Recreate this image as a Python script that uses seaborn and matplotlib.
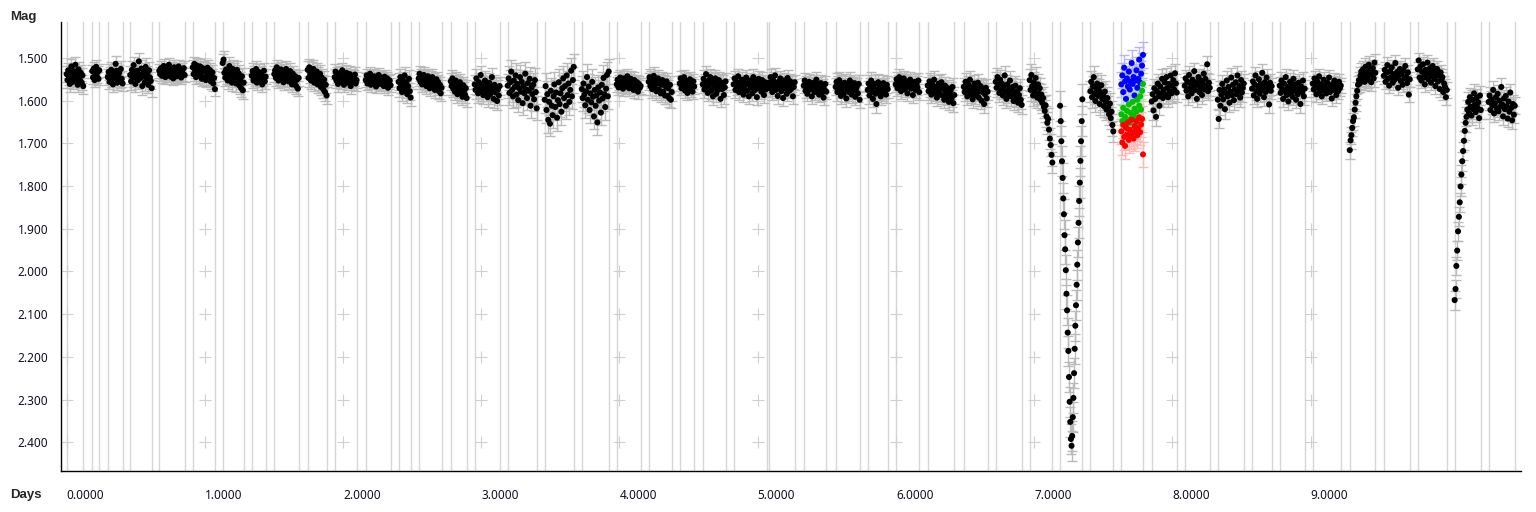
import numpy as np
import pandas as pd
import seaborn as sns
import matplotlib.pyplot as plt

# observing nights (days), one vertical marker line at each start and end
night_start = [0.000, 0.185, 0.297, 0.460, 0.670, 0.912, 1.129, 1.339, 1.502, 1.744,
               1.939, 2.164, 2.402, 2.547, 2.779, 2.952, 3.191, 3.459, 3.727, 3.980,
               4.211, 4.436, 4.602, 4.826, 5.080, 5.333, 5.564, 5.796, 5.998, 6.230,
               6.491, 6.722, 6.968, 7.188, 7.407, 7.631, 7.851, 8.090, 8.329, 8.577,
               8.777, 9.016, 9.284, 9.530, 9.776, 10.043, 10.289]
night_end = [0.120, 0.236, 0.405, 0.615, 0.854, 1.073, 1.281, 1.440, 1.679, 1.881,
             2.098, 2.344, 2.489, 2.713, 2.894, 3.133, 3.401, 3.669, 3.922, 4.153,
             4.378, 4.541, 4.768, 5.065, 5.268, 5.496, 5.738, 5.941, 6.169, 6.423,
             6.664, 6.910, 7.132, 7.349, 7.573, 7.788, 8.032, 8.271, 8.517, 8.719,
             8.958, 9.219, 9.469, 9.718, 9.986, 10.232, 10.478]
night_err = [0.018, 0.015, 0.018, 0.020, 0.016, 0.017, 0.020, 0.018, 0.018, 0.020,
             0.018, 0.016, 0.020, 0.018, 0.020, 0.022, 0.028, 0.030, 0.030, 0.018,
             0.020, 0.017, 0.020, 0.018, 0.018, 0.018, 0.020, 0.020, 0.018, 0.020,
             0.020, 0.022, 0.025, 0.035, 0.025, 0.030, 0.022, 0.020, 0.022, 0.020,
             0.020, 0.018, 0.020, 0.018, 0.018, 0.022, 0.020]

# magnitudes per night, in time order
night_mag = [
    [1.538, 1.552, 1.529, 1.545, 1.561, 1.534, 1.520, 1.548, 1.556, 1.531, 1.542, 1.516, 1.550, 1.537, 1.563, 1.527, 1.544, 1.553, 1.535, 1.558, 1.541, 1.566],
    [1.531, 1.546, 1.525, 1.552, 1.538, 1.521, 1.544, 1.533, 1.549, 1.529],
    [1.545, 1.533, 1.556, 1.540, 1.528, 1.551, 1.562, 1.537, 1.547, 1.514, 1.530, 1.558, 1.543, 1.535, 1.552, 1.526, 1.549, 1.560],
    [1.540, 1.555, 1.528, 1.548, 1.517, 1.536, 1.561, 1.544, 1.530, 1.552, 1.508, 1.539, 1.547, 1.525, 1.566, 1.542, 1.533, 1.557, 1.521, 1.549, 1.538, 1.563, 1.529, 1.546, 1.554, 1.571],
    [1.530, 1.538, 1.524, 1.542, 1.533, 1.519, 1.536, 1.545, 1.527, 1.540, 1.531, 1.516, 1.537, 1.544, 1.526, 1.534, 1.548, 1.522, 1.539, 1.529, 1.543, 1.535, 1.520, 1.541, 1.532, 1.546, 1.528, 1.537, 1.524, 1.540],
    [1.522, 1.538, 1.514, 1.530, 1.545, 1.518, 1.533, 1.526, 1.541, 1.520, 1.536, 1.549, 1.524, 1.531, 1.546, 1.527, 1.552, 1.535, 1.523, 1.548, 1.539, 1.529, 1.555, 1.543, 1.534, 1.560, 1.547, 1.573],
    [1.512, 1.504, 1.535, 1.546, 1.527, 1.541, 1.553, 1.530, 1.519, 1.544, 1.537, 1.558, 1.526, 1.549, 1.533, 1.541, 1.560, 1.528, 1.547, 1.536, 1.565, 1.552, 1.571, 1.543, 1.576, 1.558],
    [1.542, 1.531, 1.553, 1.538, 1.547, 1.526, 1.558, 1.540, 1.533, 1.551, 1.545, 1.536, 1.562, 1.548, 1.530, 1.555, 1.544],
    [1.538, 1.529, 1.547, 1.522, 1.541, 1.553, 1.534, 1.545, 1.527, 1.550, 1.539, 1.557, 1.532, 1.544, 1.526, 1.548, 1.536, 1.555, 1.540, 1.531, 1.549, 1.562, 1.537, 1.546, 1.558, 1.543, 1.566, 1.551, 1.572, 1.547],
    [1.528, 1.547, 1.522, 1.538, 1.553, 1.530, 1.544, 1.526, 1.558, 1.536, 1.549, 1.532, 1.562, 1.541, 1.555, 1.537, 1.568, 1.546, 1.559, 1.574, 1.551, 1.580, 1.563, 1.588],
    [1.545, 1.532, 1.553, 1.540, 1.561, 1.548, 1.536, 1.556, 1.544, 1.529, 1.551, 1.563, 1.541, 1.549, 1.535, 1.558, 1.546, 1.553, 1.538, 1.566, 1.550, 1.543, 1.557, 1.547, 1.539, 1.560, 1.552],
    [1.552, 1.541, 1.560, 1.548, 1.556, 1.537, 1.563, 1.550, 1.545, 1.558, 1.543, 1.554, 1.567, 1.549, 1.557, 1.540, 1.561, 1.553, 1.546, 1.559, 1.551, 1.566, 1.544, 1.555, 1.562, 1.548, 1.570, 1.557, 1.553, 1.564],
    [1.556, 1.571, 1.545, 1.563, 1.580, 1.552, 1.568, 1.541, 1.575, 1.559, 1.585, 1.566, 1.549, 1.578, 1.593],
    [1.548, 1.537, 1.556, 1.544, 1.562, 1.551, 1.540, 1.558, 1.547, 1.566, 1.553, 1.543, 1.560, 1.571, 1.549, 1.557, 1.545, 1.564, 1.554, 1.575, 1.561, 1.550, 1.568, 1.557, 1.578, 1.563, 1.583, 1.570],
    [1.555, 1.566, 1.548, 1.572, 1.560, 1.579, 1.553, 1.568, 1.585, 1.562, 1.575, 1.557, 1.581, 1.569, 1.591, 1.564, 1.576, 1.586, 1.571, 1.594],
    [1.562, 1.575, 1.548, 1.566, 1.583, 1.557, 1.571, 1.540, 1.578, 1.561, 1.587, 1.569, 1.553, 1.580, 1.564, 1.592, 1.573, 1.558, 1.585, 1.567, 1.545, 1.576, 1.596, 1.563, 1.581, 1.570, 1.601, 1.574, 1.588, 1.566],
    [1.565, 1.548, 1.582, 1.557, 1.532, 1.575, 1.590, 1.553, 1.568, 1.541, 1.586, 1.561, 1.599, 1.571, 1.545, 1.579, 1.556, 1.606, 1.566, 1.583, 1.537, 1.574, 1.594, 1.559, 1.577, 1.549, 1.612, 1.570, 1.585, 1.563, 1.597, 1.552, 1.580, 1.618],
    [1.598, 1.566, 1.622, 1.585, 1.645, 1.603, 1.654, 1.577, 1.612, 1.634, 1.590, 1.562, 1.615, 1.581, 1.640, 1.599, 1.557, 1.608, 1.583, 1.626, 1.571, 1.548, 1.594, 1.566, 1.612, 1.541, 1.587, 1.560, 1.603, 1.575, 1.530, 1.590, 1.552, 1.521],
    [1.573, 1.594, 1.560, 1.586, 1.611, 1.578, 1.545, 1.598, 1.567, 1.622, 1.583, 1.604, 1.556, 1.591, 1.637, 1.575, 1.612, 1.588, 1.651, 1.569, 1.600, 1.581, 1.628, 1.563, 1.595, 1.547, 1.585, 1.615, 1.572, 1.540, 1.590, 1.532],
    [1.562, 1.551, 1.569, 1.557, 1.546, 1.564, 1.555, 1.572, 1.548, 1.560, 1.567, 1.553, 1.543, 1.562, 1.571, 1.556, 1.549, 1.565, 1.558, 1.575, 1.552, 1.563, 1.568, 1.557, 1.579, 1.561, 1.570, 1.566],
    [1.556, 1.545, 1.566, 1.551, 1.573, 1.558, 1.542, 1.569, 1.553, 1.578, 1.560, 1.548, 1.574, 1.557, 1.583, 1.563, 1.552, 1.579, 1.560, 1.588, 1.567, 1.555, 1.589, 1.571, 1.594, 1.563, 1.598, 1.580],
    [1.560, 1.548, 1.571, 1.556, 1.566, 1.545, 1.576, 1.553, 1.563, 1.582, 1.558, 1.569, 1.550, 1.574, 1.562, 1.579, 1.555, 1.567],
    [1.562, 1.549, 1.574, 1.557, 1.538, 1.568, 1.582, 1.553, 1.565, 1.545, 1.577, 1.560, 1.590, 1.556, 1.571, 1.548, 1.584, 1.563, 1.575, 1.552, 1.567, 1.596, 1.558, 1.573, 1.561, 1.587, 1.569, 1.555],
    [1.562, 1.548, 1.575, 1.556, 1.569, 1.543, 1.580, 1.559, 1.566, 1.551, 1.573, 1.586, 1.557, 1.564, 1.546, 1.577, 1.561, 1.590, 1.553, 1.570, 1.558, 1.583, 1.545, 1.567, 1.575, 1.555, 1.592, 1.563, 1.549, 1.571, 1.560, 1.579, 1.552, 1.568, 1.587, 1.557, 1.574, 1.565],
    [1.558, 1.571, 1.545, 1.563, 1.580, 1.552, 1.567, 1.541, 1.575, 1.560, 1.589, 1.556, 1.569, 1.548, 1.578, 1.562, 1.594, 1.553, 1.571, 1.560, 1.584, 1.547, 1.566, 1.577, 1.555, 1.573, 1.561, 1.590, 1.568, 1.557],
    [1.565, 1.553, 1.577, 1.560, 1.584, 1.569, 1.556, 1.574, 1.562, 1.590, 1.571, 1.558, 1.580, 1.566, 1.551, 1.576, 1.563, 1.586, 1.572, 1.559, 1.582, 1.567, 1.593, 1.574, 1.561, 1.579],
    [1.568, 1.556, 1.580, 1.563, 1.552, 1.575, 1.589, 1.560, 1.571, 1.584, 1.558, 1.567, 1.595, 1.574, 1.562, 1.580, 1.553, 1.569, 1.586, 1.565, 1.577, 1.559, 1.591, 1.572, 1.566, 1.583, 1.561, 1.598],
    [1.575, 1.560, 1.588, 1.567, 1.553, 1.580, 1.596, 1.571, 1.561, 1.584, 1.608, 1.574, 1.557, 1.579, 1.566, 1.590, 1.570, 1.582, 1.559, 1.576, 1.568, 1.586, 1.563, 1.573],
    [1.562, 1.550, 1.571, 1.557, 1.545, 1.566, 1.578, 1.553, 1.563, 1.548, 1.574, 1.559, 1.568, 1.583, 1.555, 1.565, 1.551, 1.572, 1.560, 1.587, 1.564, 1.556, 1.575, 1.561, 1.569, 1.553, 1.580],
    [1.565, 1.578, 1.555, 1.571, 1.586, 1.561, 1.574, 1.551, 1.582, 1.568, 1.593, 1.576, 1.560, 1.584, 1.570, 1.557, 1.588, 1.573, 1.598, 1.565, 1.580, 1.591, 1.571, 1.603, 1.584, 1.576, 1.595, 1.568, 1.606, 1.587],
    [1.568, 1.580, 1.556, 1.573, 1.590, 1.562, 1.577, 1.551, 1.585, 1.569, 1.597, 1.575, 1.560, 1.588, 1.571, 1.582, 1.558, 1.593, 1.576, 1.566, 1.600, 1.580, 1.572, 1.608, 1.585, 1.570, 1.595, 1.579],
    [1.556, 1.570, 1.545, 1.563, 1.582, 1.551, 1.575, 1.560, 1.588, 1.567, 1.541, 1.579, 1.596, 1.562, 1.584, 1.572, 1.553, 1.590, 1.576, 1.568, 1.601, 1.583, 1.565, 1.594, 1.578, 1.605, 1.587, 1.571, 1.598, 1.610],
    [1.552, 1.575, 1.540, 1.566, 1.588, 1.558, 1.579, 1.547, 1.570, 1.593, 1.562, 1.584, 1.571, 1.598, 1.586, 1.605, 1.594, 1.615, 1.624, 1.611, 1.637, 1.652, 1.643, 1.668, 1.689, 1.704, 1.727, 1.745],
    [1.612, 1.648, 1.695, 1.742, 1.781, 1.829, 1.866, 1.915, 1.948, 1.997, 2.052, 2.091, 2.143, 2.186, 2.247, 2.305, 2.352, 2.392, 2.408, 2.385,
     2.341, 2.296, 2.238, 2.181, 2.127, 2.079, 2.031, 1.984, 1.932, 1.886, 1.835, 1.792, 1.741, 1.695, 1.648, 1.597],
    [1.578, 1.556, 1.592, 1.567, 1.545, 1.583, 1.601, 1.571, 1.560, 1.589, 1.575, 1.608, 1.582, 1.564, 1.596, 1.587, 1.613, 1.579, 1.602, 1.621, 1.594, 1.615, 1.632, 1.607, 1.641, 1.626, 1.657, 1.672],
    [],
    [1.602, 1.585, 1.623, 1.571, 1.596, 1.638, 1.578, 1.560, 1.590, 1.612, 1.567, 1.583, 1.549, 1.594, 1.575, 1.557, 1.586, 1.545, 1.570, 1.592, 1.561, 1.578, 1.541, 1.583, 1.565, 1.552, 1.574, 1.536, 1.560, 1.581],
    [1.565, 1.548, 1.577, 1.556, 1.590, 1.540, 1.571, 1.560, 1.583, 1.551, 1.568, 1.531, 1.575, 1.557, 1.596, 1.563, 1.545, 1.580, 1.569, 1.553, 1.587, 1.560, 1.537, 1.574, 1.549, 1.566, 1.515, 1.578, 1.558, 1.570],
    [1.598, 1.643, 1.575, 1.612, 1.586, 1.561, 1.597, 1.574, 1.620, 1.582, 1.553, 1.590, 1.568, 1.605, 1.579, 1.546, 1.587, 1.563, 1.599, 1.574, 1.557, 1.585, 1.541, 1.578, 1.566, 1.593, 1.552, 1.581, 1.570, 1.560],
    [1.572, 1.555, 1.588, 1.562, 1.541, 1.578, 1.596, 1.567, 1.550, 1.584, 1.561, 1.575, 1.535, 1.569, 1.592, 1.557, 1.580, 1.546, 1.573, 1.563, 1.609, 1.558, 1.577, 1.566],
    [1.565, 1.582, 1.553, 1.573, 1.596, 1.560, 1.578, 1.545, 1.587, 1.568, 1.602, 1.575, 1.556, 1.584, 1.566, 1.591, 1.549, 1.577, 1.562, 1.598, 1.571, 1.585, 1.558, 1.574, 1.608, 1.567, 1.580, 1.553, 1.590, 1.572],
    [1.560, 1.574, 1.548, 1.566, 1.585, 1.555, 1.571, 1.543, 1.579, 1.562, 1.590, 1.568, 1.551, 1.577, 1.564, 1.583, 1.558, 1.572, 1.546, 1.580, 1.567, 1.595, 1.561, 1.575, 1.553, 1.569, 1.587, 1.563, 1.578, 1.556, 1.571, 1.565],
    [1.716, 1.693, 1.681, 1.664, 1.648, 1.639, 1.621, 1.605, 1.590, 1.577, 1.563, 1.552, 1.560, 1.541, 1.532, 1.549, 1.527, 1.538, 1.556, 1.521, 1.545, 1.533, 1.551, 1.516, 1.540, 1.528, 1.557, 1.537, 1.524, 1.548, 1.511, 1.535],
    [1.542, 1.528, 1.556, 1.535, 1.517, 1.549, 1.565, 1.531, 1.545, 1.522, 1.558, 1.538, 1.551, 1.512, 1.547, 1.533, 1.570, 1.541, 1.526, 1.554, 1.537, 1.563, 1.529, 1.548, 1.519, 1.544, 1.559, 1.534, 1.586, 1.550],
    [1.527, 1.506, 1.546, 1.520, 1.553, 1.533, 1.515, 1.546, 1.562, 1.528, 1.539, 1.511, 1.550, 1.535, 1.524, 1.558, 1.543, 1.519, 1.531, 1.549, 1.566, 1.537, 1.526, 1.555, 1.541, 1.573, 1.534, 1.551, 1.545, 1.580, 1.560, 1.568, 1.592, 1.575],
    [2.067, 2.041, 1.987, 1.951, 1.906, 1.872, 1.838, 1.801, 1.773, 1.742, 1.718, 1.694, 1.671, 1.652, 1.638, 1.621, 1.603, 1.629, 1.592, 1.614, 1.635, 1.598, 1.620, 1.583, 1.609, 1.627, 1.594, 1.616, 1.604, 1.641, 1.588, 1.622],
    [1.603, 1.588, 1.622, 1.597, 1.611, 1.575, 1.630, 1.606, 1.592, 1.618, 1.584, 1.625, 1.600, 1.614, 1.568, 1.609, 1.637, 1.595, 1.620, 1.589, 1.613, 1.642, 1.602, 1.626, 1.581, 1.617, 1.646, 1.608, 1.633, 1.612],
]

# the one night measured in three colour filters
colour_night = 35
blue_mag = [1.562, 1.541, 1.580, 1.523, 1.555, 1.596, 1.548, 1.567, 1.532, 1.574, 1.556, 1.512,
            1.561, 1.545, 1.588, 1.553, 1.529, 1.570, 1.549, 1.504, 1.558, 1.537, 1.518, 1.493]
green_mag = [1.632, 1.648, 1.617, 1.655, 1.638, 1.662, 1.624, 1.645, 1.609, 1.652, 1.629, 1.641,
             1.603, 1.636, 1.619, 1.657, 1.626, 1.598, 1.643, 1.612, 1.590, 1.621, 1.577, 1.561]
red_mag = [1.672, 1.698, 1.657, 1.685, 1.706, 1.664, 1.679, 1.651, 1.692, 1.668, 1.683, 1.645,
           1.676, 1.689, 1.660, 1.671, 1.648, 1.681, 1.665, 1.639, 1.674, 1.656, 1.643, 1.726]
colour_err = {'B': 0.030, 'G': 0.025, 'R': 0.030}

day_ticks = [0, 1, 2, 3, 4, 5, 6, 7, 8, 9]
mag_ticks = [1.5, 1.6, 1.7, 1.8, 1.9, 2.0, 2.1, 2.2, 2.3, 2.4]

# build the table
frames = []
for i, mags in enumerate(night_mag):
    if len(mags) == 0:
        continue
    t = np.linspace(night_start[i], night_end[i], len(mags))
    frames.append(pd.DataFrame({'day': t, 'mag': mags, 'err': night_err[i], 'band': 'V'}))
for band, mags in [('B', blue_mag), ('G', green_mag), ('R', red_mag)]:
    t = np.linspace(night_start[colour_night], night_end[colour_night], len(mags))
    frames.append(pd.DataFrame({'day': t, 'mag': mags, 'err': colour_err[band], 'band': band}))
df = pd.concat(frames, ignore_index=True)

dot_col = {'V': 'black', 'B': '#0000ff', 'G': '#00c000', 'R': '#ff0000'}
bar_col = {'V': '#bababa', 'B': '#b4b4ff', 'G': '#b4e0b4', 'R': '#ffb8b8'}

sns.set_style("white")
plt.rcParams['font.family'] = ['Noto Sans', 'DejaVu Sans']

fig = plt.figure(figsize=(15.36, 5.12), dpi=100)
ax = fig.add_axes([61 / 1536, 41 / 512, 1460 / 1536, 449 / 512])

for x in night_start + night_end:
    ax.axvline(x, color='#d6d6d6', lw=1.0, zorder=0)

gx, gy = np.meshgrid(day_ticks, mag_ticks)
ax.plot(gx.ravel(), gy.ravel(), ls='none', marker='+', ms=8, mew=0.8,
        color='#d0d0d0', zorder=0.5)

for band in ['V', 'B', 'G', 'R']:
    sub = df[df['band'] == band]
    ax.errorbar(sub['day'], sub['mag'], yerr=sub['err'], fmt='none',
                ecolor=bar_col[band], elinewidth=1.0, capsize=3.5, capthick=1.0, zorder=1)

sns.scatterplot(data=df, x='day', y='mag', hue='band', palette=dot_col, s=19,
                linewidth=0, legend=False, ax=ax, zorder=2)

ax.set_xlim(-0.041, 10.523)
ax.set_ylim(2.467, 1.416)
ax.set_xticks(day_ticks)
ax.set_xticklabels([f"{d:.4f}" for d in day_ticks], ha='left')
ax.set_yticks(mag_ticks)
ax.set_yticklabels([f"{m:.3f}" for m in mag_ticks])
ax.set_xlabel('')
ax.set_ylabel('')
ax.tick_params(axis='both', direction='out', length=5, width=1, color='black',
               labelsize=8.5, labelcolor='#101020')
ax.tick_params(axis='x', pad=8)
ax.tick_params(axis='y', pad=4)
sns.despine(ax=ax)
for side in ['left', 'bottom']:
    ax.spines[side].set_color('black')
    ax.spines[side].set_linewidth(1.0)

fig.text(10 / 1536, 1 - 17 / 512, 'Mag', fontsize=9.5, fontweight='bold', va='center',
         family=['Liberation Sans', 'DejaVu Sans'])
fig.text(10 / 1536, 1 - 495 / 512, 'Days', fontsize=9.5, fontweight='bold', va='center',
         family=['Liberation Sans', 'DejaVu Sans'])

fig.savefig('out.png', dpi=100)
